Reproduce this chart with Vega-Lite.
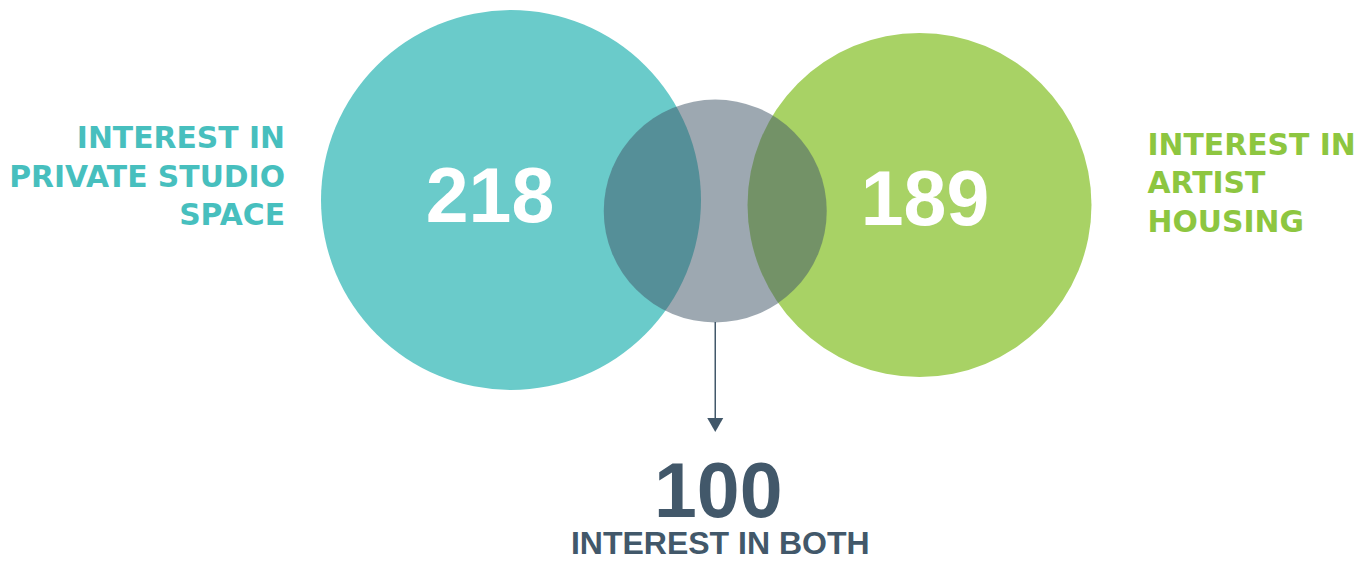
{
  "$schema": "https://vega.github.io/schema/vega-lite/v6.json",
  "width": 1367,
  "height": 410,
  "autosize": {"type": "none"},
  "padding": {"top": 0, "left": 0, "right": 0, "bottom": 152},
  "background": "white",
  "config": {"view": {"stroke": null}},
  "data": {
    "values": [
      {"set": "Private studio space", "label": "INTEREST IN\nPRIVATE STUDIO\nSPACE", "count": 218},
      {"set": "Artist housing", "label": "INTEREST IN\nARTIST\nHOUSING", "count": 189},
      {"set": "Both", "label": "INTEREST IN BOTH", "count": 100}
    ]
  },
  "encoding": {
    "x": {
      "field": "set",
      "type": "nominal",
      "axis": null,
      "scale": {"type": "point", "domain": ["Private studio space", "Both", "Artist housing"], "range": [511, 919.5], "padding": 0}
    }
  },
  "layer": [
    {
      "transform": [{"filter": "datum.set === 'Private studio space'"}],
      "mark": {"type": "point", "shape": "circle", "filled": true, "opacity": 1, "color": "#6ACBCA", "strokeWidth": 0, "yOffset": -5},
      "encoding": {"size": {"field": "count", "type": "quantitative", "legend": null, "scale": {"domain": [100, 189, 218], "range": [49729, 118336, 144400]}}}
    },
    {
      "transform": [{"filter": "datum.set === 'Artist housing'"}],
      "mark": {"type": "point", "shape": "circle", "filled": true, "opacity": 1, "color": "#A8D265", "strokeWidth": 0, "yOffset": 0},
      "encoding": {"size": {"field": "count", "type": "quantitative", "legend": null, "scale": {"domain": [100, 189, 218], "range": [49729, 118336, 144400]}}}
    },
    {
      "transform": [{"filter": "datum.set === 'Both'"}],
      "mark": {"type": "point", "shape": "circle", "filled": true, "opacity": 0.52, "color": "#43596A", "strokeWidth": 0, "yOffset": 6},
      "encoding": {"size": {"field": "count", "type": "quantitative", "legend": null, "scale": {"domain": [100, 189, 218], "range": [49729, 118336, 144400]}}}
    },
    {
      "transform": [{"filter": "datum.set === 'Both'"}],
      "mark": {"type": "tick", "orient": "vertical", "size": 98, "thickness": 1.5, "color": "#42586A", "opacity": 1, "yOffset": 166}
    },
    {
      "transform": [{"filter": "datum.set === 'Both'"}],
      "mark": {"type": "point", "shape": "triangle-down", "filled": true, "opacity": 1, "color": "#42586A", "strokeWidth": 0, "size": 256, "yOffset": 220}
    },
    {
      "transform": [{"filter": "datum.set === 'Private studio space'"}],
      "mark": {"type": "text", "font": "Liberation Sans", "fontWeight": "bold", "fontSize": 77, "color": "#FFFFFF", "align": "center", "baseline": "alphabetic", "dx": -21, "dy": 17},
      "encoding": {"text": {"field": "count", "type": "nominal"}}
    },
    {
      "transform": [{"filter": "datum.set === 'Artist housing'"}],
      "mark": {"type": "text", "font": "Liberation Sans", "fontWeight": "bold", "fontSize": 77, "color": "#FFFFFF", "align": "center", "baseline": "alphabetic", "dx": 5.5, "dy": 20},
      "encoding": {"text": {"field": "count", "type": "nominal"}}
    },
    {
      "transform": [{"filter": "datum.set === 'Both'"}],
      "mark": {"type": "text", "font": "Liberation Sans", "fontWeight": "bold", "fontSize": 77, "color": "#42586A", "align": "center", "baseline": "alphabetic", "dx": 3, "dy": 312},
      "encoding": {"text": {"field": "count", "type": "nominal"}}
    },
    {
      "transform": [{"filter": "datum.set === 'Both'"}],
      "mark": {"type": "text", "font": "Liberation Sans", "fontWeight": "bold", "fontSize": 32, "color": "#42586A", "align": "center", "baseline": "alphabetic", "dx": 5, "dy": 349},
      "encoding": {"text": {"field": "label", "type": "nominal"}}
    },
    {
      "transform": [{"filter": "datum.set === 'Private studio space'"}],
      "mark": {"type": "text", "font": "DejaVu Sans", "fontWeight": "bold", "fontSize": 29.8, "color": "#47BFBE", "align": "right", "baseline": "alphabetic", "lineBreak": "\n", "lineHeight": 38.5, "dx": -226, "dy": -57},
      "encoding": {"text": {"field": "label", "type": "nominal"}}
    },
    {
      "transform": [{"filter": "datum.set === 'Artist housing'"}],
      "mark": {"type": "text", "font": "DejaVu Sans", "fontWeight": "bold", "fontSize": 29.8, "color": "#8DC640", "align": "left", "baseline": "alphabetic", "lineBreak": "\n", "lineHeight": 38.3, "dx": 228, "dy": -50},
      "encoding": {"text": {"field": "label", "type": "nominal"}}
    }
  ]
}
